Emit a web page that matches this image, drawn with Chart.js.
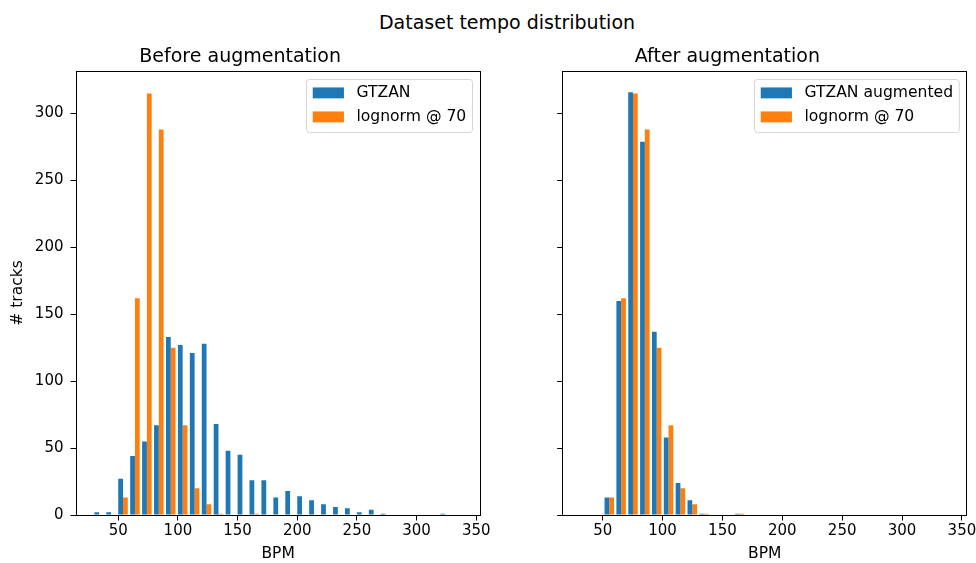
<!DOCTYPE html>
<html><head><meta charset="utf-8">
<script src="https://cdn.jsdelivr.net/npm/chart.js@4.4.0/dist/chart.umd.min.js"></script>
<style>
html,body{margin:0;padding:0;background:#fff;width:976px;height:563px;overflow:hidden;}
#sup{position:absolute;left:507px;top:11px;transform:translateX(-50%);font:19px "DejaVu Sans";line-height:22px;color:#000;white-space:nowrap;}
.pane{position:absolute;top:0;height:563px;}
</style></head><body>
<div id="sup">Dataset tempo distribution</div>
<div class="pane" style="left:0;width:520px"><canvas id="c1" width="520" height="563"></canvas></div>
<div class="pane" style="left:488px;width:488px"><canvas id="c2" width="488" height="563"></canvas></div>
<script>
// ---- data ----
const leftBinCenters = [34,44,54,64,74,84,94,104,114,124,134,144,154,164,174,184,194,204,214,224,234,244,254,264,274,284,294,304,314,324,334];
const gtzanCounts =        [2,2,27,44,55,67,133,127,121,128,68,48,45,26,26,13,18,14,11,8,6,5,2,4,1,0,0,0,0,1,0];
const lognormBeforeCounts = [0,0,13,162,315,288,125,67,20,8,1,0,0,1,0,0,0,0,0,0,0,0,0,0,0,0,0,0,0,0,0];

const rightBinCenters = [35.7,45.6,55.5,65.4,75.3,85.2,95.1,105.0,114.9,124.8,134.7,144.6,154.5,164.4,174.3,184.2,194.1,204.0,213.9,223.8,233.7,243.6,253.5,263.4,273.3,283.2,293.1,303.0,312.9,322.8,332.7];
const gtzanAugCounts =     [0,0,13,160,316,279,137,58,24,11,1,0,0,1,0,0,0,0,0,0,0,0,0,0,0,0,0,0,0,0,0];
const lognormAfterCounts = [0,0,13,162,315,288,125,67,20,8,1,0,0,1,0,0,0,0,0,0,0,0,0,0,0,0,0,0,0,0,0];

const xTickValues = [50,100,150,200,250,300,350];
const yTickValues = [0,50,100,150,200,250,300];
const yLimit = 331.8;
const leftXRange = [14.6, 353.4];
const rightXRange = [16.6, 354.0];

const BLUE = '#1f77b4', ORANGE = '#ff7f0e';
Chart.defaults.font.family = '"DejaVu Sans"';

const framePlugin = {
  id: 'frame',
  afterDatasetsDraw(chart) {
    const {ctx, chartArea: a} = chart;
    const l = Math.floor(a.left), t = Math.floor(a.top), r = Math.floor(a.right), b = Math.floor(a.bottom);
    ctx.save();
    ctx.strokeStyle = '#000'; ctx.lineWidth = 1;
    ctx.strokeRect(l + 0.5, t + 0.5, r - l, b - t);
    ctx.restore();
  }
};

const legendPlugin = {
  id: 'mplLegend',
  afterDraw(chart) {
    const {ctx, chartArea: a} = chart;
    const fs = 15.6;
    ctx.save();
    ctx.font = fs + 'px "DejaVu Sans"';
    const items = chart.data.datasets;
    const tw = Math.max(...items.map(d => ctx.measureText(d.label).width));
    const pad = 0.4 * fs, hl = 2 * fs, hh = 0.7 * fs, tp = 0.8 * fs;
    const w = pad + hl + tp + tw + pad;
    const h = 53;
    const x = Math.round(a.right - 0.5 * fs - w) + 0.5;
    const y = Math.round(a.top + 8) + 0.5;
    const r = 3;
    ctx.beginPath();
    ctx.moveTo(x + r, y);
    ctx.arcTo(x + w, y, x + w, y + h, r);
    ctx.arcTo(x + w, y + h, x, y + h, r);
    ctx.arcTo(x, y + h, x, y, r);
    ctx.arcTo(x, y, x + w, y, r);
    ctx.closePath();
    ctx.fillStyle = 'rgba(255,255,255,0.8)';
    ctx.fill();
    ctx.strokeStyle = 'rgba(204,204,204,0.8)';
    ctx.lineWidth = 1;
    ctx.stroke();
    ctx.textBaseline = 'middle';
    ctx.textAlign = 'left';
    items.forEach((d, i) => {
      const cy = y + 13.4 + 24 * i;
      ctx.fillStyle = d.backgroundColor;
      ctx.fillRect(x + pad, cy - hh / 2, hl, hh);
      ctx.fillStyle = '#000';
      ctx.fillText(d.label, x + pad + hl + tp, cy);
    });
    ctx.restore();
  }
};

const tickGrid = {display: true, offset: false, drawOnChartArea: false, drawTicks: true, tickLength: 5.5, color: '#000', lineWidth: 1};

function xScale(range) {
  return {
    type: 'linear', min: range[0], max: range[1], offset: false,
    afterBuildTicks: s => { s.ticks = xTickValues.map(v => ({value: v})); },
    afterFit: s => { s.height = 48; s.paddingLeft = 0; s.paddingRight = 0; },
    grid: tickGrid,
    border: {display: false},
    ticks: {color: '#000', font: {size: 15}, padding: 2, maxRotation: 0, autoSkip: false},
    title: {display: true, text: 'BPM', color: '#000', font: {size: 15.5}, padding: {top: 0, bottom: 0}}
  };
}
function yScale(width, showLabels) {
  return {
    type: 'linear', min: 0, max: yLimit,
    afterBuildTicks: s => { s.ticks = yTickValues.map(v => ({value: v})); },
    afterFit: s => { s.width = width; s.paddingTop = 0; s.paddingBottom = 0; },
    grid: tickGrid,
    border: {display: false},
    ticks: {display: showLabels, color: '#000', font: {size: 15}, padding: 7, autoSkip: false},
    title: showLabels ? {display: true, text: '# tracks', color: '#000', font: {size: 15.5}, padding: {top: 8.5, bottom: 0}} : {display: false}
  };
}

function makePanel(id, title, bins, labels, a, b, xRange, yWidth, showY, padRight) {
  return new Chart(document.getElementById(id), {
    type: 'bar',
    data: {
      datasets: [
        {label: labels[0], data: bins.map((x, i) => ({x: x, y: a[i]})), backgroundColor: BLUE},
        {label: labels[1], data: bins.map((x, i) => ({x: x, y: b[i]})), backgroundColor: ORANGE}
      ]
    },
    options: {
      responsive: false, animation: false, devicePixelRatio: 1,
      layout: {padding: {left: 0, right: padRight, top: 0, bottom: 0}},
      datasets: {bar: {categoryPercentage: 0.8, barPercentage: 1.0, borderWidth: 0, grouped: true}},
      plugins: {
        legend: {display: false},
        tooltip: {enabled: false},
        title: {display: true, text: title, color: '#000', font: {size: 19, weight: 'normal', lineHeight: 1.2}, padding: {top: 45.5, bottom: 2.7}}
      },
      scales: {x: xScale(xRange), y: yScale(yWidth, showY)}
    },
    plugins: [framePlugin, legendPlugin]
  });
}

makePanel('c1', 'Before augmentation', leftBinCenters, ['GTZAN', 'lognorm @ 70'], gtzanCounts, lognormBeforeCounts, leftXRange, 76, true, 39.7);
makePanel('c2', 'After augmentation', rightBinCenters, ['GTZAN augmented', 'lognorm @ 70'], gtzanAugCounts, lognormAfterCounts, rightXRange, 74.7, false, 9.3);
</script>
</body></html>
